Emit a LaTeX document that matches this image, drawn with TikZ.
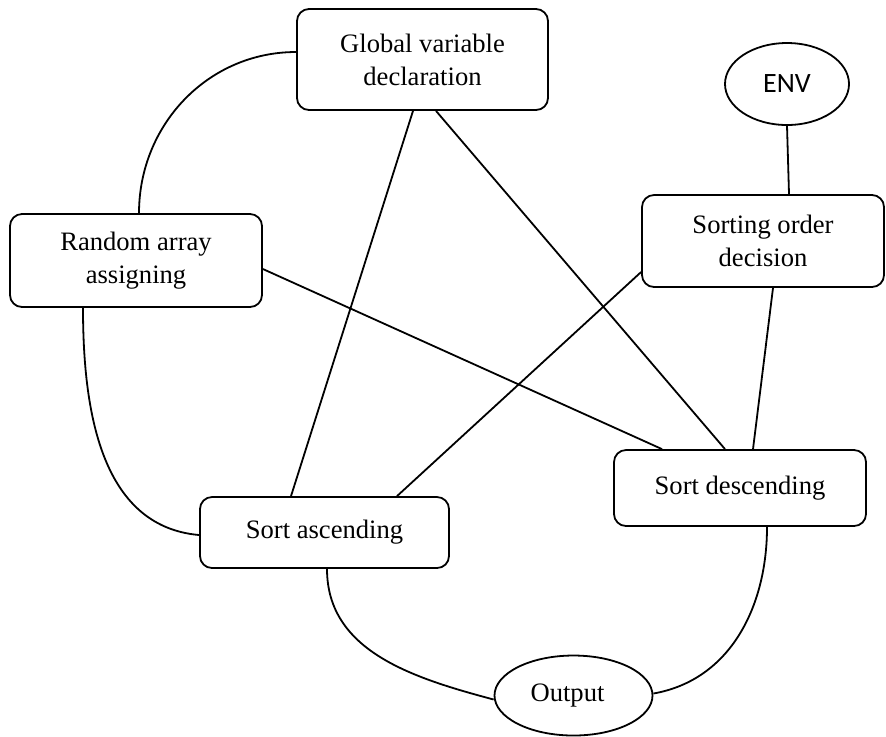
\documentclass[tikz,border=0pt]{standalone}
\usepackage{fontspec}
\setmainfont{Liberation Serif}
\newfontfamily\envfont{Carlito}
\usetikzlibrary{shapes.geometric,calc}
\begin{document}
\begin{tikzpicture}[x=0.5pt,y=-0.5pt,line width=0.9pt,
  stage/.style={draw,rounded corners=6pt,inner sep=0pt,align=center,
    font=\fontsize{13.3}{16.5}\selectfont},
  oval/.style={draw,ellipse,inner sep=0pt},
  link/.style={draw,line width=0.9pt}]
\useasboundingbox (0,0) rectangle (886,736);

% process boxes
\node[stage,minimum width=125.5pt,minimum height=50.5pt] (global) at (422.5,59.5)
  {Global variable\\declaration};
\node[stage,minimum width=121pt,minimum height=46pt] (sorting) at (763,241)
  {Sorting order\\decision};
\node[stage,minimum width=126pt,minimum height=46.5pt] (random) at (136,260.5)
  {Random array\\assigning};
\node[stage,minimum width=124.5pt,minimum height=35.5pt] (sasc) at (324.5,532.5)
  {\raisebox{2.5pt}{Sort ascending}};
\node[stage,minimum width=126pt,minimum height=38pt] (sdesc) at (740,488)
  {\raisebox{2.5pt}{Sort descending}};

% terminals
\node[oval,minimum width=62pt,minimum height=41pt,font=\envfont\fontsize{14}{16}\selectfont]
  (env) at (787,84) {ENV};
\node[oval,minimum width=79pt,minimum height=40pt,font=\fontsize{13.3}{16}\selectfont]
  (output) at (573.5,695.5) {\hspace*{-6pt}Output};

% curved links
\draw[link] ($(global.west)+(0,-7.5)$) to[out=180,in=90] ($(random.north)+(3,0)$);
\draw[link] ($(random.south)+(-53,0)$) to[out=-90,in=175] ($(sasc.west)+(0,2.5)$);
\draw[link] ($(sasc.south)+(2.5,0)$) to[out=-90,in=165] ($(output.west)+(0,4)$);
\draw[link] ($(sdesc.south)+(27,0)$) to[out=-90,in=10] ($(output.east)+(0,-2)$);

% straight links
\draw[link] (env.south) -- ($(sorting.north)+(26,0)$);
\draw[link] ($(global.south)+(-9.5,0)$) -- ($(sasc.north)+(-33.5,0)$);
\draw[link] ($(global.south)+(13.5,0)$) -- ($(sdesc.north)+(-15,0)$);
\draw[link] ($(random.east)+(0,8.5)$) -- ($(sdesc.north)+(-78,0)$);
\draw[link] ($(sorting.west)+(0,31)$) -- ($(sasc.north)+(72.5,0)$);
\draw[link] ($(sorting.south)+(10,0)$) -- ($(sdesc.north)+(13,0)$);
\end{tikzpicture}
\end{document}
